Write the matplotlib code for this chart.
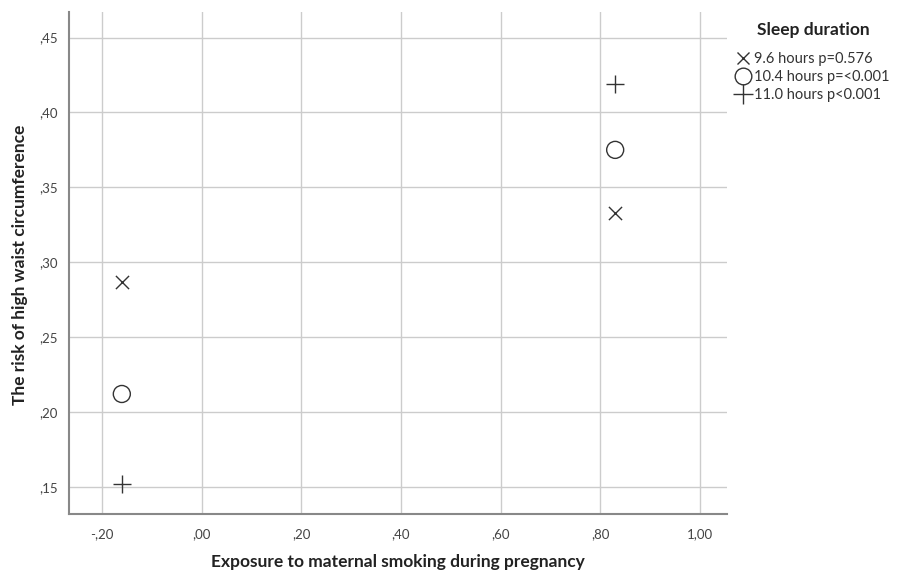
import matplotlib.pyplot as plt
from matplotlib.lines import Line2D

# exposure groups (x) and estimated risk per sleep duration
exposure = [-0.16, 0.83]
risk_96 = [0.287, 0.333]
risk_104 = [0.212, 0.375]
risk_110 = [0.152, 0.419]
labels = ['9.6 hours p=0.576', '10.4 hours p=<0.001', '11.0 hours p<0.001']

xticks = [-0.2, 0.0, 0.2, 0.4, 0.6, 0.8, 1.0]
xticklabels = ['-,20', ',00', ',20', ',40', ',60', ',80', '1,00']
yticks = [0.15, 0.20, 0.25, 0.30, 0.35, 0.40, 0.45]
yticklabels = [',15', ',20', ',25', ',30', ',35', ',40', ',45']

plt.rcParams['font.family'] = ['Lato', 'DejaVu Sans']

fig = plt.figure(figsize=(9.2, 5.76), dpi=100)
ax = fig.add_axes([0.075, 0.108, 0.715, 0.871])

ax.scatter(exposure, risk_96, marker='x', s=90, c='#333333', linewidths=1.0, zorder=3)
ax.scatter(exposure, risk_104, marker='o', s=150, facecolors='none', edgecolors='#333333', linewidths=1.0, zorder=3)
ax.scatter(exposure, risk_110, marker='+', s=180, c='#333333', linewidths=1.0, zorder=3)

ax.set_xlim(-0.266, 1.054)
ax.set_ylim(0.132, 0.467)
ax.set_xticks(xticks)
ax.set_xticklabels(xticklabels)
ax.set_yticks(yticks)
ax.set_yticklabels(yticklabels)
ax.tick_params(length=0, labelsize=9.5, colors='#444444')
ax.tick_params(axis='x', pad=10)
ax.tick_params(axis='y', pad=8)
ax.grid(True, color='#cccccc', linewidth=1.0)
ax.set_axisbelow(True)
for s in ['top', 'right']:
    ax.spines[s].set_visible(False)
for s in ['left', 'bottom']:
    ax.spines[s].set_color('#888888')
    ax.spines[s].set_linewidth(1.5)

fig.text(398 / 920, 1 - 562 / 576, 'Exposure to maternal smoking during pregnancy',
         fontsize=12.5, fontweight='bold', ha='center', va='center', color='#222222')
fig.text(20 / 920, 1 - 265 / 576, 'The risk of high waist circumference',
         fontsize=12.5, fontweight='bold', ha='center', va='center', rotation=90, color='#222222')

handles = [
    Line2D([], [], marker='x', linestyle='none', color='#333333', markersize=9, markeredgewidth=1.0),
    Line2D([], [], marker='o', linestyle='none', markerfacecolor='none', markeredgecolor='#333333', markersize=12, markeredgewidth=1.0),
    Line2D([], [], marker='+', linestyle='none', color='#333333', markersize=14, markeredgewidth=1.0),
]
leg = fig.legend(handles, labels, title='Sleep duration', loc='upper left',
                 bbox_to_anchor=(736 / 920, 1 - 22 / 576), frameon=False, fontsize=10.5,
                 handlelength=1.0, handletextpad=0.25, labelspacing=0.28,
                 borderaxespad=0, borderpad=0,
                 title_fontproperties={'weight': 'bold', 'size': 12.5})
leg.get_title().set_color('#222222')
for t in leg.get_texts():
    t.set_color('#333333')
leg._legend_box.sep = 10

fig.savefig('out.png', dpi=100)
